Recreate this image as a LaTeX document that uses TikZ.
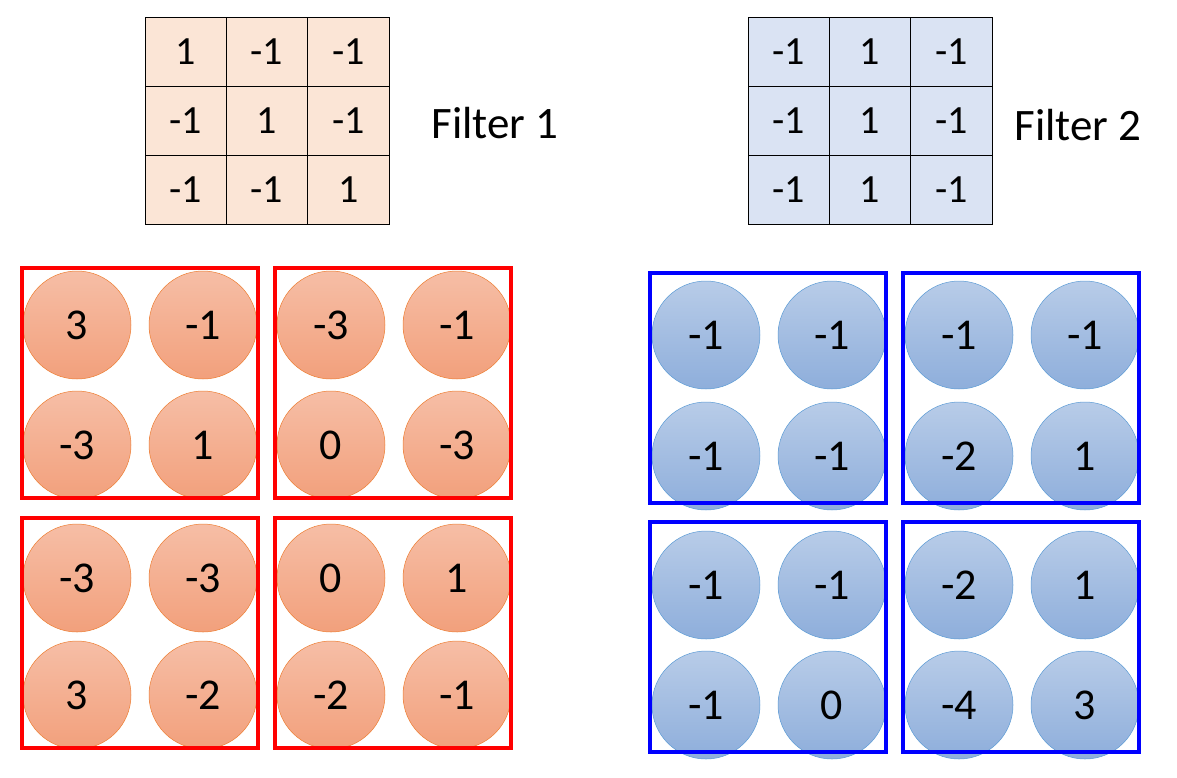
\documentclass[tikz,border=0pt]{standalone}
\usepackage{fontspec}
\setmainfont{Carlito}
\begin{document}
\begin{tikzpicture}[x=1pt,y=-1pt,
 cellA/.style={draw=black,fill=orange!15!white,minimum width=81.3pt,minimum height=69pt,inner sep=0,font=\fontsize{40}{42}\selectfont},
 cellB/.style={cellA,fill={rgb,255:red,218;green,227;blue,243}},
 rc/.style={circle,draw={rgb,255:red,237;green,125;blue,49},line width=0.5pt,minimum size=108pt,inner sep=0,top color={rgb,255:red,246;green,190;blue,166},bottom color={rgb,255:red,242;green,160;blue,124},font=\fontsize{44}{46}\selectfont},
 bc/.style={rc,draw={rgb,255:red,91;green,155;blue,213},top color={rgb,255:red,184;green,204;blue,232},bottom color={rgb,255:red,142;green,174;blue,219}},
 rbox/.style={draw=red,line width=4pt},
 bbox/.style={draw=blue,line width=4pt},
 lbl/.style={font=\fontsize{45}{47}\selectfont,anchor=west}]
\useasboundingbox (0,0) rectangle (1177,777);
\definecolor{pk}{RGB}{251,229,214}
% Filter 1
\foreach \r/\row in {0/{1,-1,-1},1/{-1,1,-1},2/{-1,-1,1}}{
 \foreach \v [count=\c from 0] in \row {
  \node[cellA,fill=pk] (fa\r\c) at ({185.7+81.3*\c},{51.5+69*\r}) {\v};}}
\node[lbl] (f1) at (428,123) {Filter 1};
% Filter 2
\foreach \r/\row in {0/{-1,1,-1},1/{-1,1,-1},2/{-1,1,-1}}{
 \foreach \v [count=\c from 0] in \row {
  \node[cellB] (fb\r\c) at ({788.7+81.3*\c},{51.5+69*\r}) {\v};}}
\node[lbl] (f2) at (1011,125) {Filter 2};
% red circles
\foreach \x/\y/\v [count=\i] in {77/325/3,203/325/-1,77/445/-3,203/445/1,
 331/325/-3,457/325/-1,331/445/0,457/445/-3,
 77/578/-3,203/578/-3,77/695/3,203/695/-2,
 331/578/0,457/578/1,331/695/-2,457/695/-1}
 \node[rc] (r\i) at (\x,\y) {\v};
\foreach \x/\y/\v [count=\i] in {706/335/-1,832/335/-1,706/456/-1,832/456/-1,
 959/335/-1,1085/335/-1,959/456/-2,1085/456/1,
 706/585/-1,832/585/-1,706/705/-1,832/705/0,
 959/585/-2,1085/585/1,959/705/-4,1085/705/3}
 \node[bc] (b\i) at (\x,\y) {\v};
\draw[rbox] (22,268) rectangle (258,498);
\draw[rbox] (275,268) rectangle (511,498);
\draw[rbox] (22,518) rectangle (258,748);
\draw[rbox] (275,518) rectangle (511,748);
\draw[bbox] (650,273) rectangle (886,503);
\draw[bbox] (903,273) rectangle (1139,503);
\draw[bbox] (650,522) rectangle (886,752);
\draw[bbox] (903,522) rectangle (1139,752);
\end{tikzpicture}
\end{document}
